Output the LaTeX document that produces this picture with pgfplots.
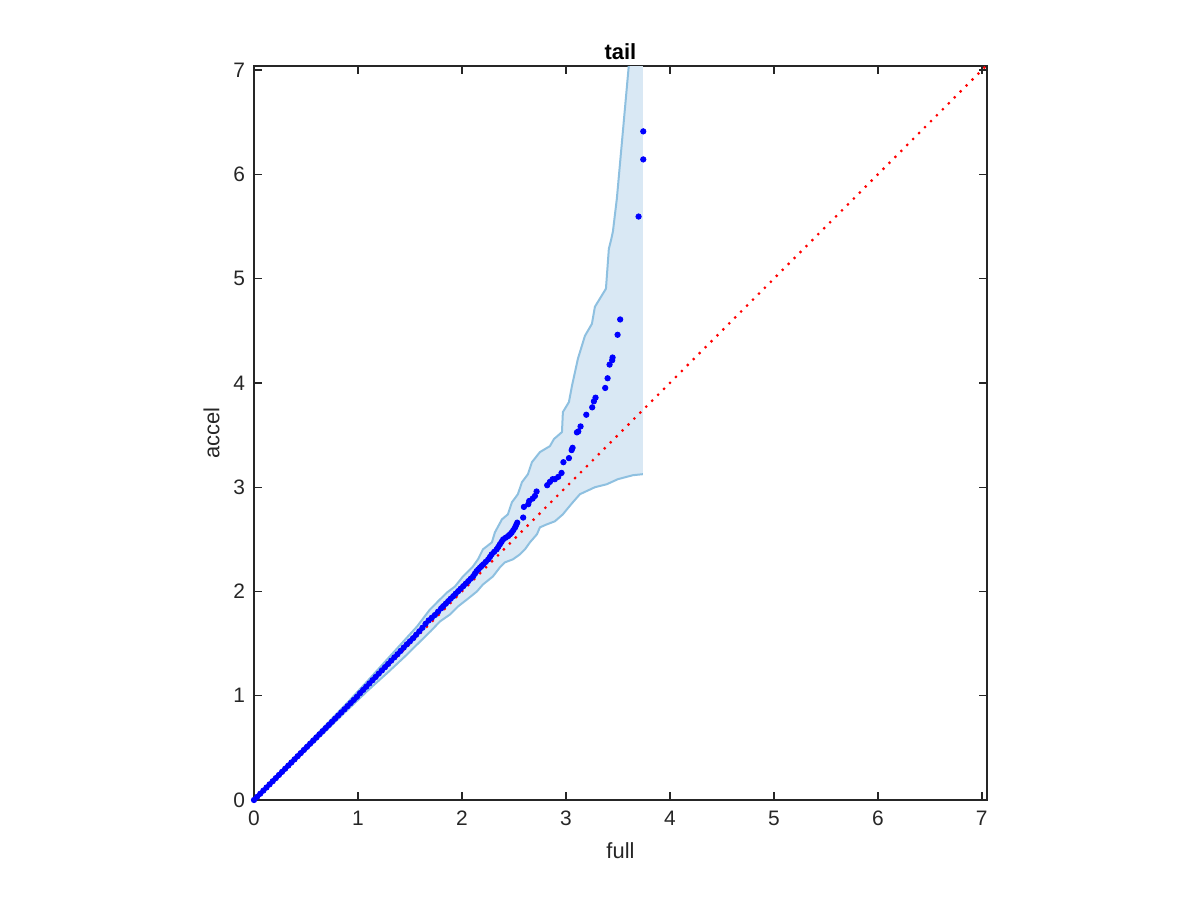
\documentclass[border=0pt]{standalone}
\usepackage{fontspec}
\setmainfont{Liberation Sans}
\usepackage{pgfplots}
\pgfplotsset{compat=1.18}
\definecolor{bandfill}{RGB}{217,232,244}
\definecolor{bandedge}{RGB}{142,192,224}
\definecolor{axgray}{RGB}{38,38,38}
\begin{document}
\begin{tikzpicture}
\path[use as bounding box] (-127bp,-50bp) rectangle (473bp,400bp);
\begin{axis}[
  at={(0,0)}, anchor=south west,
  scale only axis, width=366.5bp, height=367bp,
  xmin=0, xmax=7.05, ymin=0, ymax=7.04,
  xtick={0,1,...,7}, ytick={0,1,...,7},
  tick align=inside, major tick length=4bp,
  axis line style={axgray, line width=0.7bp},
  every tick/.style={axgray, line width=0.7bp},
  tick label style={font=\fontsize{10.5}{12}\selectfont, text=axgray},
  xticklabel style={yshift=-2bp},
  yticklabel style={xshift=-1bp},
  /pgf/number format/assume math mode=true,
  xlabel={full}, ylabel={accel},
  label style={font=\fontsize{11}{13}\selectfont, text=axgray},
  xlabel style={yshift=-1.5bp},
  title={\textbf{tail}}, title style={font=\fontsize{11}{13}\selectfont, yshift=-6.5bp},
]
% confidence band (fill)
\addplot[fill=bandfill, draw=none, forget plot] coordinates {
  (0,0)(0.3,0.315)(0.6,0.625)(0.9,0.935)(1.1,1.15)(1.3,1.37)(1.45,1.535)
  (1.567,1.663)(1.692,1.827)(1.788,1.923)(1.856,1.990)(1.933,2.048)(2.010,2.144)
  (2.106,2.240)(2.154,2.308)(2.202,2.404)(2.288,2.471)(2.317,2.567)(2.385,2.692)
  (2.442,2.740)(2.481,2.856)(2.538,2.933)(2.577,3.048)(2.635,3.125)(2.673,3.240)
  (2.750,3.337)(2.846,3.394)(2.885,3.462)(2.962,3.529)(2.971,3.721)(3.029,3.817)
  (3.058,3.971)(3.115,4.231)(3.183,4.452)(3.250,4.567)(3.279,4.731)(3.385,4.904)
  (3.413,5.288)(3.433,5.365)(3.452,5.452)(3.490,5.769)(3.606,7.058)(3.62,7.2)
  (3.74,7.2)
  (3.740,3.125)(3.644,3.115)(3.500,3.077)(3.394,3.029)(3.279,3.000)(3.135,2.933)
  (3.067,2.856)(3.010,2.788)(2.971,2.740)(2.894,2.673)(2.817,2.644)(2.750,2.615)
  (2.721,2.548)(2.654,2.471)(2.606,2.404)(2.558,2.356)(2.490,2.308)(2.413,2.279)
  (2.365,2.231)(2.298,2.144)(2.202,2.067)(2.144,2.000)(2.048,1.923)(1.962,1.856)
  (1.885,1.779)(1.788,1.712)(1.7,1.62)(1.567,1.49)(1.45,1.375)(1.3,1.235)
  (1.1,1.055)(0.9,0.865)(0.6,0.575)(0.3,0.285)(0,0)
};
% upper edge
\addplot[bandedge, line width=1bp] coordinates {
  (0,0)(0.3,0.315)(0.6,0.625)(0.9,0.935)(1.1,1.15)(1.3,1.37)(1.45,1.535)
  (1.567,1.663)(1.692,1.827)(1.788,1.923)(1.856,1.990)(1.933,2.048)(2.010,2.144)
  (2.106,2.240)(2.154,2.308)(2.202,2.404)(2.288,2.471)(2.317,2.567)(2.385,2.692)
  (2.442,2.740)(2.481,2.856)(2.538,2.933)(2.577,3.048)(2.635,3.125)(2.673,3.240)
  (2.750,3.337)(2.846,3.394)(2.885,3.462)(2.962,3.529)(2.971,3.721)(3.029,3.817)
  (3.058,3.971)(3.115,4.231)(3.183,4.452)(3.250,4.567)(3.279,4.731)(3.385,4.904)
  (3.413,5.288)(3.433,5.365)(3.452,5.452)(3.490,5.769)(3.606,7.058)(3.62,7.2)
};
% lower edge
\addplot[bandedge, line width=1bp] coordinates {
  (0,0)(0.3,0.285)(0.6,0.575)(0.9,0.865)(1.1,1.055)(1.3,1.235)(1.45,1.375)
  (1.567,1.49)(1.7,1.62)(1.788,1.712)(1.885,1.779)(1.962,1.856)(2.048,1.923)
  (2.144,2.000)(2.202,2.067)(2.298,2.144)(2.365,2.231)(2.413,2.279)(2.490,2.308)
  (2.558,2.356)(2.606,2.404)(2.654,2.471)(2.721,2.548)(2.750,2.615)(2.817,2.644)
  (2.894,2.673)(2.971,2.740)(3.010,2.788)(3.067,2.856)(3.135,2.933)(3.279,3.000)
  (3.394,3.029)(3.500,3.077)(3.644,3.115)(3.740,3.125)
};
% quantile points
\addplot[only marks, mark=*, mark size=1.35bp, blue, mark options={draw=blue, fill=blue}] coordinates {
  (0.00,0.00)(0.03,0.03)(0.06,0.06)(0.09,0.09)(0.12,0.12)(0.15,0.15)(0.18,0.18)
  (0.21,0.21)(0.24,0.24)(0.27,0.27)(0.30,0.30)(0.33,0.33)(0.36,0.36)(0.39,0.39)
  (0.42,0.42)(0.45,0.45)(0.48,0.48)(0.51,0.51)(0.54,0.54)(0.57,0.57)(0.60,0.60)
  (0.63,0.63)(0.66,0.66)(0.69,0.69)(0.72,0.72)(0.75,0.75)(0.78,0.78)(0.81,0.81)
  (0.84,0.84)(0.87,0.87)(0.90,0.90)(0.93,0.93)(0.96,0.96)(0.99,0.99)
  (1.02,1.025)(1.05,1.056)(1.08,1.087)(1.11,1.118)(1.14,1.149)(1.17,1.18)
  (1.20,1.212)(1.23,1.243)(1.26,1.274)(1.29,1.305)(1.32,1.337)(1.35,1.368)
  (1.38,1.398)(1.41,1.43)(1.44,1.462)(1.47,1.493)(1.50,1.522)(1.53,1.552)
  (1.56,1.585)(1.59,1.618)(1.62,1.652)(1.65,1.69)(1.68,1.722)(1.71,1.748)
  (1.74,1.774)(1.77,1.806)(1.80,1.838)(1.82,1.859)(1.845,1.883)
  (1.868,1.907)(1.892,1.931)(1.917,1.955)(1.940,1.979)(1.964,2.003)(1.988,2.027)
  (2.013,2.051)(2.037,2.075)(2.061,2.099)(2.085,2.123)(2.109,2.147)(2.125,2.171)
  (2.141,2.195)(2.157,2.211)(2.173,2.228)(2.189,2.244)(2.205,2.260)(2.229,2.284)
  (2.253,2.308)(2.270,2.332)(2.286,2.356)(2.310,2.380)(2.334,2.404)(2.350,2.428)
  (2.365,2.452)(2.381,2.476)(2.397,2.500)(2.421,2.516)(2.445,2.532)(2.462,2.548)
  (2.478,2.564)(2.494,2.588)(2.510,2.612)(2.521,2.636)(2.532,2.660)
  (2.589,2.709)(2.596,2.811)(2.638,2.837)(2.647,2.868)(2.680,2.891)(2.702,2.916)
  (2.718,2.959)(2.820,3.019)(2.846,3.051)(2.872,3.077)(2.894,3.077)(2.926,3.099)
  (2.958,3.137)(2.976,3.240)(3.029,3.279)(3.055,3.356)(3.064,3.378)(3.106,3.526)
  (3.119,3.535)(3.141,3.583)(3.196,3.695)(3.253,3.766)(3.269,3.824)(3.285,3.859)
  (3.378,3.952)(3.401,4.045)(3.420,4.176)(3.445,4.218)(3.449,4.244)(3.497,4.462)
  (3.522,4.609)(3.699,5.596)(3.744,6.144)(3.744,6.413)
};
% reference line y = x
\addplot[red, line width=1.1bp, dash pattern=on 1.1bp off 3.1bp] coordinates {(0,0)(7.05,7.05)};
\end{axis}
\end{tikzpicture}
\end{document}
